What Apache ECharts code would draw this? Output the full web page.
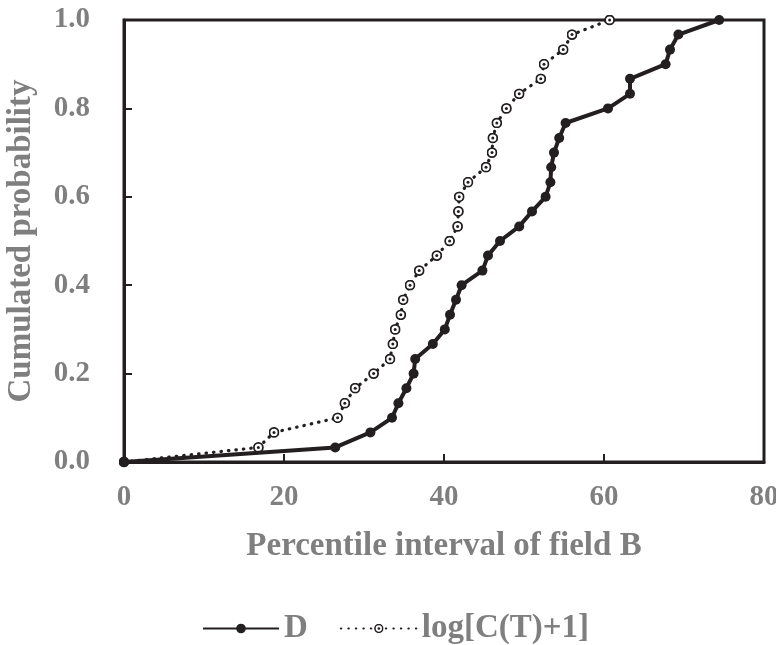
<!DOCTYPE html>
<html>
<head>
<meta charset="utf-8">
<script src="https://cdn.jsdelivr.net/npm/echarts@6/dist/echarts.min.js"></script>
<style>
  html, body { margin: 0; padding: 0; background: #fff; }
  #chart { width: 776px; height: 645px; }
</style>
</head>
<body>
<div id="chart"></div>
<script>
// Cumulated probability levels (shared by both series)
var cumProb = [0, 0.033, 0.067, 0.1, 0.133, 0.167, 0.2, 0.233, 0.267, 0.3, 0.333,
  0.367, 0.4, 0.433, 0.467, 0.5, 0.533, 0.567, 0.6, 0.633, 0.667,
  0.7, 0.733, 0.767, 0.8, 0.833, 0.867, 0.9, 0.933, 0.967, 1.0];

// Percentile interval of field B
var dX = [0, 26.4, 30.8, 33.5, 34.3, 35.3, 36.2, 36.4, 38.6, 40.1, 40.75,
  41.5, 42.2, 44.8, 45.5, 47.0, 49.4, 51.0, 52.7, 53.3, 53.4,
  53.75, 54.4, 55.2, 60.5, 63.25, 63.25, 67.7, 68.25, 69.3, 74.4];
var logX = [0, 16.8, 18.75, 26.7, 27.6, 28.9, 31.2, 33.25, 33.6, 33.9, 34.6,
  34.9, 35.75, 36.9, 39.1, 40.7, 41.7, 41.8, 41.9, 43.0, 45.25,
  46.0, 46.1, 46.6, 47.8, 49.4, 52.1, 52.5, 54.9, 56.0, 60.7];

var seriesNames = ['D', 'log[C(T)+1]'];
var xTicks = [0, 20, 40, 60, 80];
var yTicks = [0, 0.2, 0.4, 0.6, 0.8, 1.0];

var INK = '#231f20';
var GREY = '#7f7f7f';
var FONT = '"Liberation Serif", "Times New Roman", serif';

// ring with a dot in the middle
var ringSvg = '<svg xmlns="http://www.w3.org/2000/svg" width="22" height="22" viewBox="0 0 22 22">' +
  '<circle cx="11" cy="11" r="9" fill="#fff" stroke="' + INK + '" stroke-width="3.6"/>' +
  '<circle cx="11" cy="11" r="3" fill="' + INK + '"/></svg>';
var ringSymbol = 'image://data:image/svg+xml;charset=utf-8,' + encodeURIComponent(ringSvg);

function pairs(xs) {
  return xs.map(function (x, i) { return [x, cumProb[i]]; });
}

var chart = echarts.init(document.getElementById('chart'), null, { renderer: 'canvas' });

var _labelStyle = { color: GREY, fontFamily: FONT, fontWeight: 'bold', fontSize: 29 };
var _nameStyle = { color: GREY, fontFamily: FONT, fontWeight: 'bold', fontSize: 33 };

chart.setOption({
  backgroundColor: '#fff',
  animation: false,
  grid: {
    left: 124, right: 12, top: 20, bottom: 183,
    outerBoundsMode: 'none',
    show: true, borderColor: INK, borderWidth: 3, backgroundColor: 'transparent'
  },
  legend: {
    bottom: 0,
    left: 202,
    padding: 0,
    itemWidth: 76,
    itemHeight: 12,
    itemGap: 32,
    textStyle: { color: GREY, fontFamily: FONT, fontWeight: 'bold', fontSize: 33 },
    data: seriesNames
  },
  xAxis: {
    type: 'value',
    min: xTicks[0],
    max: xTicks[xTicks.length - 1],
    interval: 20,
    name: 'Percentile interval of field B',
    nameLocation: 'middle',
    nameGap: 68,
    nameMoveOverlap: false,
    nameTextStyle: _nameStyle,
    axisLine: { lineStyle: { color: INK, width: 3 } },
    axisTick: { inside: true, length: 8, lineStyle: { color: INK, width: 2 } },
    axisLabel: Object.assign({ margin: 21 }, _labelStyle),
    splitLine: { show: false }
  },
  yAxis: {
    type: 'value',
    min: yTicks[0],
    max: yTicks[yTicks.length - 1],
    interval: 0.2,
    name: 'Cumulated probability',
    nameLocation: 'middle',
    nameGap: 86,
    nameMoveOverlap: false,
    nameTextStyle: _nameStyle,
    axisLine: { lineStyle: { color: INK, width: 3 } },
    axisTick: { inside: true, length: 8, lineStyle: { color: INK, width: 2 } },
    axisLabel: Object.assign({
      margin: 34,
      formatter: function (v) { return v.toFixed(1); }
    }, _labelStyle),
    splitLine: { show: false }
  },
  series: [
    {
      name: seriesNames[0],
      type: 'line',
      data: pairs(dX),
      clip: false,
      symbol: 'circle',
      symbolSize: 10,
      itemStyle: { color: INK },
      lineStyle: { color: INK, width: 4 },
      z: 3
    },
    {
      name: seriesNames[1],
      type: 'line',
      data: pairs(logX),
      clip: false,
      symbol: ringSymbol,
      symbolSize: 11,
      itemStyle: { color: INK },
      lineStyle: { color: INK, width: 3.2, type: [0.5, 7], cap: 'round' },
      z: 2
    }
  ]
});
</script>
</body>
</html>
